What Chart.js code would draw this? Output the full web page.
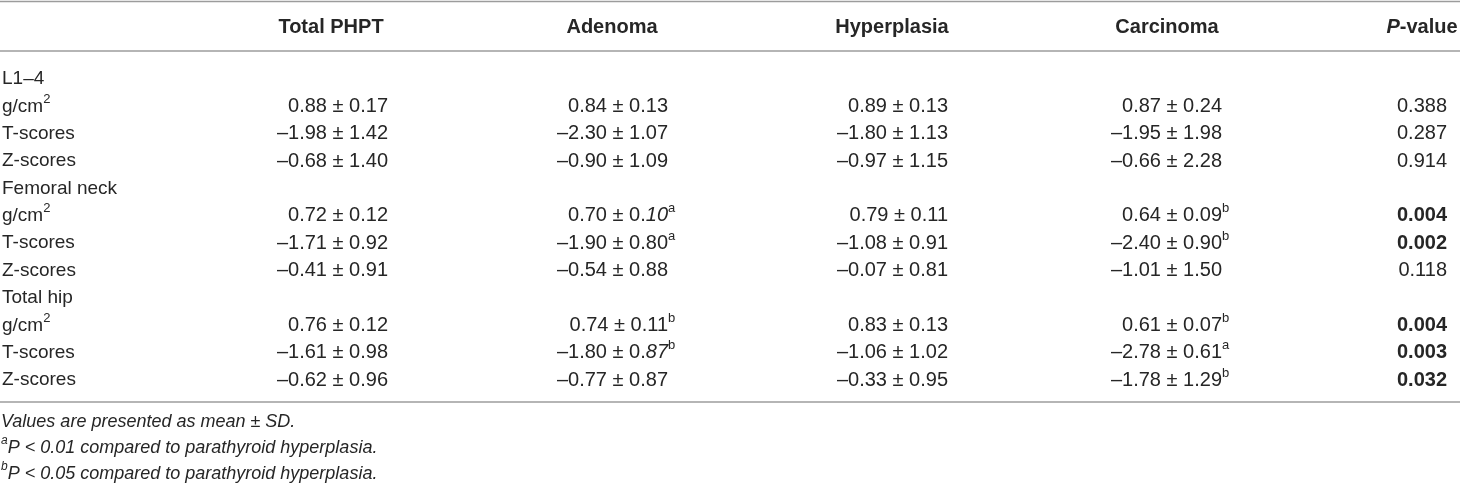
<!DOCTYPE html>
<html>
<head>
<meta charset="utf-8">
<script src="https://cdn.jsdelivr.net/npm/chart.js@4.4.1/dist/chart.umd.min.js"></script>
<style>
html, body { margin: 0; padding: 0; background: #fff; }
#wrap { width: 1460px; height: 484px; position: relative; }
</style>
</head>
<body>
<div id="wrap"><canvas id="bmdTable"></canvas></div>
<script>
// table data: one entry per row, null where the row is a section heading
var rowLabels = ['L1–4', 'g/cm²', 'T-scores', 'Z-scores', 'Femoral neck', 'g/cm²', 'T-scores', 'Z-scores', 'Total hip', 'g/cm²', 'T-scores', 'Z-scores'];
var columnNames = ['Total PHPT', 'Adenoma', 'Hyperplasia', 'Carcinoma'];

var totalMean = [null, 0.88, -1.98, -0.68, null, 0.72, -1.71, -0.41, null, 0.76, -1.61, -0.62];
var totalSD = [null, 0.17, 1.42, 1.40, null, 0.12, 0.92, 0.91, null, 0.12, 0.98, 0.96];

var adenomaMean = [null, 0.84, -2.30, -0.90, null, 0.70, -1.90, -0.54, null, 0.74, -1.80, -0.77];
var adenomaSD = [null, 0.13, 1.07, 1.09, null, 0.10, 0.80, 0.88, null, 0.11, 0.87, 0.87];
var adenomaSup = ['', '', '', '', '', 'a', 'a', '', '', 'b', 'b', ''];
var adenomaSDItalic = [false, false, false, false, false, true, false, false, false, false, true, false];

var hyperMean = [null, 0.89, -1.80, -0.97, null, 0.79, -1.08, -0.07, null, 0.83, -1.06, -0.33];
var hyperSD = [null, 0.13, 1.13, 1.15, null, 0.11, 0.91, 0.81, null, 0.13, 1.02, 0.95];

var carcMean = [null, 0.87, -1.95, -0.66, null, 0.64, -2.40, -1.01, null, 0.61, -2.78, -1.78];
var carcSD = [null, 0.24, 1.98, 2.28, null, 0.09, 0.90, 1.50, null, 0.07, 0.61, 1.29];
var carcSup = ['', '', '', '', '', 'b', 'b', '', '', 'b', 'a', 'b'];

var pValues = [null, 0.388, 0.287, 0.914, null, 0.004, 0.002, 0.118, null, 0.004, 0.003, 0.032];

var footnotes = [
    { sup: '', text: 'Values are presented as mean ± SD.' },
    { sup: 'a', text: 'P < 0.01 compared to parathyroid hyperplasia.' },
    { sup: 'b', text: 'P < 0.05 compared to parathyroid hyperplasia.' }
];

// layout (pixels)
var FONT = '"Liberation Sans", Arial, Helvetica, sans-serif';
var fLabel = '19px ' + FONT;
var fReg = '20px ' + FONT;
var fBold = 'bold 20px ' + FONT;
var fItal = 'italic 20px ' + FONT;
var fBoldItal = 'italic bold 20px ' + FONT;
var fFoot = 'italic 18px ' + FONT;
var fSup = '13px ' + FONT;
var colRight = [388, 668, 948, 1222, 1447];   // right edge of numbers in each column
var headCenter = [331, 612, 892, 1167, 1422];
var ruleY = [1.5, 51, 402];
var headerY = 27;
var footY = [422, 448, 474];
var textColor = '#262626';

function fmt(v, d) {
    return (v < 0 ? '–' : '') + Math.abs(v).toFixed(d);
}

// draw a list of text runs; runs with hang:true are not counted for alignment
function drawRuns(ctx, runs, x, yMid, align) {
    var w = 0;
    runs.forEach(function (r) {
        ctx.font = r.f;
        r.w = ctx.measureText(r.t).width;
        if (!r.hang) w += r.w;
    });
    var cx = align === 'right' ? x - w : (align === 'center' ? x - w / 2 : x);
    runs.forEach(function (r) {
        ctx.font = r.f;
        ctx.fillText(r.t, cx, yMid + (r.sup ? -7 : 0));
        cx += r.w + (r.gap || 0);
    });
}

function cellRuns(mean, sd, sup, sdItalic) {
    var runs = [{ t: fmt(mean, 2) + ' ± ', f: fReg }];
    var sdTxt = sd.toFixed(2);
    if (sdItalic) {
        runs.push({ t: sdTxt.slice(0, 2), f: fReg });
        runs.push({ t: sdTxt.slice(2), f: fItal });
    } else {
        runs.push({ t: sdTxt, f: fReg });
    }
    if (sup) runs.push({ t: sup, f: fSup, sup: true, hang: true });
    return runs;
}

function labelRuns(label) {
    var i = label.indexOf('²');
    if (i < 0) return [{ t: label, f: fLabel }];
    return [{ t: label.slice(0, i), f: fLabel }, { t: '2', f: fSup, sup: true }];
}

var tablePlugin = {
    id: 'tableText',
    afterDraw: function (chart) {
        var ctx = chart.ctx;
        var yScale = chart.scales.y;
        ctx.save();

        // horizontal rules
        ctx.strokeStyle = '#9c9c9c';
        ctx.lineWidth = 1.5;
        ruleY.forEach(function (y) {
            ctx.beginPath();
            ctx.moveTo(0, y);
            ctx.lineTo(chart.width, y);
            ctx.stroke();
        });

        ctx.fillStyle = textColor;
        ctx.textBaseline = 'middle';
        ctx.textAlign = 'left';

        // header row
        columnNames.forEach(function (name, i) {
            drawRuns(ctx, [{ t: name, f: fBold }], headCenter[i], headerY, 'center');
        });
        drawRuns(ctx, [{ t: 'P', f: fBoldItal }, { t: '-value', f: fBold }], headCenter[4], headerY, 'center');

        // body rows, placed by the category scale
        rowLabels.forEach(function (label, r) {
            var y = yScale.getPixelForValue(r);
            drawRuns(ctx, labelRuns(label), 2, y, 'left');
            if (totalMean[r] === null) return;
            drawRuns(ctx, cellRuns(totalMean[r], totalSD[r], '', false), colRight[0], y, 'right');
            drawRuns(ctx, cellRuns(adenomaMean[r], adenomaSD[r], adenomaSup[r], adenomaSDItalic[r]), colRight[1], y, 'right');
            drawRuns(ctx, cellRuns(hyperMean[r], hyperSD[r], '', false), colRight[2], y, 'right');
            drawRuns(ctx, cellRuns(carcMean[r], carcSD[r], carcSup[r], false), colRight[3], y, 'right');
            var p = pValues[r];
            drawRuns(ctx, [{ t: p.toFixed(3), f: p < 0.05 ? fBold : fReg }], colRight[4], y, 'right');
        });

        // footnotes
        footnotes.forEach(function (n, i) {
            var runs = [];
            if (n.sup) runs.push({ t: n.sup, f: 'italic 12px ' + FONT, sup: true });
            runs.push({ t: n.text, f: fFoot });
            drawRuns(ctx, runs, 1, footY[i], 'left');
        });
        ctx.restore();
    }
};

var ctx = document.getElementById('bmdTable').getContext('2d');

var bmdChart = new Chart(ctx, {
    type: 'scatter',
    data: {
        labels: rowLabels,
        datasets: []
    },
    options: {
        responsive: true,
        maintainAspectRatio: false,
        animation: false,
        layout: { padding: { top: 79, bottom: 104, left: 0, right: 0 } },
        plugins: { legend: { display: false }, tooltip: { enabled: false } },
        scales: {
            x: { type: 'linear', display: false, min: 0, max: 1 },
            y: { type: 'category', display: false, offset: false }
        }
    },
    plugins: [tablePlugin]
});
</script>
</body>
</html>
